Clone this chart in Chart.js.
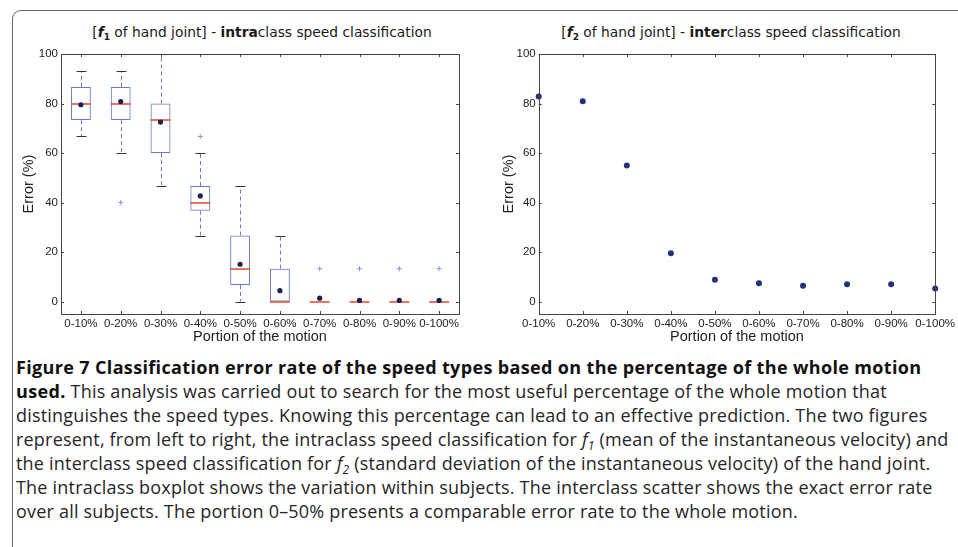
<!DOCTYPE html>
<html>
<head>
<meta charset="utf-8">
<script src="https://cdn.jsdelivr.net/npm/chart.js@4.4.1/dist/chart.umd.min.js"></script>
<style>
  body { margin: 0; background: #fff; width: 958px; height: 547px; overflow: hidden; position: relative; font-family: "Liberation Sans", Arial, sans-serif; }
  .frame { position: absolute; left: 12px; top: 10px; width: 990px; height: 600px; border-top: 1.5px solid #666; border-left: 1.5px solid #666; border-radius: 9px 0 0 0; }
  .panel { position: absolute; top: 40px; height: 310px; }
  .ttl { position: absolute; top: 24px; font-family: "DejaVu Sans", sans-serif; font-size: 13.8px; color: #1a1a1a; white-space: nowrap; transform: translateX(-50%); }
  .ttl sub { font-size: 9px; vertical-align: -3px; line-height: 0; }
  .cap { position: absolute; left: 16px; top: 355px; font-family: "Open Sans", sans-serif; font-size: 18px; letter-spacing: 0.2px; line-height: 24px; color: #262626; }
  .cap div { white-space: nowrap; }
  .cap b { letter-spacing: 0.35px; color: #111; }
  .cap i sub { font-size: 12px; vertical-align: -4px; line-height: 0; }
</style>
</head>
<body>
<div class="frame"></div>

<div class="ttl" style="left:262px">[<b><i>f</i><sub>1</sub></b> of hand joint] - <b>intra</b>class speed classification</div>
<div class="ttl" style="left:731px">[<b><i>f</i><sub>2</sub></b> of hand joint] - <b>inter</b>class speed classification</div>

<div class="panel" style="left:0;width:480px"><canvas id="intra"></canvas></div>
<div class="panel" style="left:480px;width:478px"><canvas id="inter"></canvas></div>

<div class="cap">
  <div><b>Figure 7 Classification error rate of the speed types based on the percentage of the whole motion</b></div>
  <div><b>used.</b> This analysis was carried out to search for the most useful percentage of the whole motion that</div>
  <div>distinguishes the speed types. Knowing this percentage can lead to an effective prediction. The two figures</div>
  <div>represent, from left to right, the intraclass speed classification for <i>f<sub>1</sub></i> (mean of the instantaneous velocity) and</div>
  <div>the interclass speed classification for <i>f<sub>2</sub></i> (standard deviation of the instantaneous velocity) of the hand joint.</div>
  <div>The intraclass boxplot shows the variation within subjects. The interclass scatter shows the exact error rate</div>
  <div>over all subjects. The portion 0–50% presents a comparable error rate to the whole motion.</div>
</div>

<script>
const categories = ['0-10%', '0-20%', '0-30%', '0-40%', '0-50%', '0-60%', '0-70%', '0-80%', '0-90%', '0-100%']

// intraclass boxplot (f1)
const whiskerLow = [66.7, 60, 46.7, 26.7, 0, 0, 0, 0, 0, 0]
const boxLow = [73.3, 73.3, 60, 36.7, 6.7, 0, 0, 0, 0, 0]
const medians = [80, 80, 73.3, 40, 13.3, 0, 0, 0, 0, 0]
const boxHigh = [86.7, 86.7, 80, 46.7, 26.7, 13.3, 0, 0, 0, 0]
const whiskerHigh = [93.3, 93.3, 100, 60, 46.7, 26.7, 0, 0, 0, 0]
const means = [79.5, 80.8, 72.5, 42.7, 15.1, 4.4, 1.4, 0.5, 0.5, 0.5]
const outliers = [null, 40, null, 66.7, null, null, 13.3, 13.3, 13.3, 13.3]

// interclass scatter (f2)
const interError = [82.8, 80.9, 55, 19.5, 8.8, 7.4, 6.4, 7.0, 7.0, 5.3]

const yTicks = [0, 20, 40, 60, 80, 100]

const tickFont = { family: '"Liberation Sans", Arial, sans-serif', size: 11.5 }
const titleFont = { family: '"Liberation Sans", Arial, sans-serif', size: 14.5 }

// matlab-like frame with inward ticks
const framePlugin = {
    id: 'frame',
    afterDraw(chart) {
        const { ctx, chartArea: a, scales } = chart
        ctx.save()
        ctx.strokeStyle = '#444'
        ctx.lineWidth = 1
        ctx.strokeRect(Math.round(a.left) + 0.5, Math.round(a.top) + 0.5, Math.round(a.right - a.left), Math.round(a.bottom - a.top))
        ctx.beginPath()
        scales.x.ticks.forEach((t, i) => {
            const x = Math.round(scales.x.getPixelForTick(i)) + 0.5
            ctx.moveTo(x, a.top); ctx.lineTo(x, a.top + 3)
            ctx.moveTo(x, a.bottom); ctx.lineTo(x, a.bottom - 3)
        })
        scales.y.ticks.forEach((t) => {
            const y = Math.round(scales.y.getPixelForValue(t.value)) + 0.5
            ctx.moveTo(a.left, y); ctx.lineTo(a.left + 3, y)
            ctx.moveTo(a.right, y); ctx.lineTo(a.right - 3, y)
        })
        ctx.stroke()
        ctx.restore()
    }
}

// whiskers, caps and medians for the boxplot
const boxPlugin = {
    id: 'boxparts',
    beforeDatasetsDraw(chart) {
        const { ctx, scales: { x, y } } = chart
        ctx.save()
        ctx.lineWidth = 1
        categories.forEach((c, i) => {
            const px = Math.round(x.getPixelForValue(i)) + 0.5
            ctx.strokeStyle = '#6d79cf'
            ctx.setLineDash([4, 3])
            ctx.beginPath()
            ctx.moveTo(px, y.getPixelForValue(boxHigh[i])); ctx.lineTo(px, y.getPixelForValue(whiskerHigh[i]))
            ctx.moveTo(px, y.getPixelForValue(boxLow[i])); ctx.lineTo(px, y.getPixelForValue(whiskerLow[i]))
            ctx.stroke()
            ctx.setLineDash([])
            ctx.strokeStyle = '#333'
            ctx.beginPath()
            if (whiskerHigh[i] > boxHigh[i]) {
                const yh = Math.round(y.getPixelForValue(whiskerHigh[i])) + 0.5
                ctx.moveTo(px - 5, yh); ctx.lineTo(px + 5, yh)
            }
            if (whiskerLow[i] < boxLow[i]) {
                const yl = Math.round(y.getPixelForValue(whiskerLow[i])) + 0.5
                ctx.moveTo(px - 5, yl); ctx.lineTo(px + 5, yl)
            }
            ctx.stroke()
        })
        ctx.restore()
    },
    afterDatasetDraw(chart, args) {
        if (args.index !== 0) return
        const { ctx, scales: { x, y } } = chart
        const step = x.getPixelForValue(1) - x.getPixelForValue(0)
        ctx.save()
        ctx.strokeStyle = '#e4472c'
        ctx.lineWidth = 1.5
        ctx.beginPath()
        medians.forEach((m, i) => {
            const px = x.getPixelForValue(i)
            const py = Math.round(y.getPixelForValue(m))
            ctx.moveTo(px - step / 4, py); ctx.lineTo(px + step / 4, py)
        })
        ctx.stroke()
        ctx.restore()
    }
}

function yScale(width) {
    return {
        min: -5,
        max: 100,
        afterBuildTicks: s => { s.ticks = yTicks.map(v => ({ value: v })) },
        afterFit: s => { s.width = width },
        grid: { display: false, drawTicks: false },
        border: { display: false },
        ticks: { color: '#222', font: tickFont, padding: 3 },
        title: { display: true, text: 'Error (%)', color: '#222', font: titleFont, padding: { top: 20, bottom: 0 } }
    }
}

function xScale(offset) {
    return {
        offset: offset,
        afterFit: s => { s.height = 36 },
        grid: { display: false, drawTicks: false, offset: false },
        border: { display: false },
        ticks: { color: '#222', font: tickFont, padding: 3, maxRotation: 0, minRotation: 0, autoSkip: false },
        title: { display: true, text: 'Portion of the motion', color: '#222', font: titleFont, padding: { top: 0, bottom: 4 } }
    }
}

const common = {
    responsive: false,
    animation: false,
    plugins: { legend: { display: false }, tooltip: { enabled: false } }
}

function makeCanvas(id, w, h) {
    const c = document.getElementById(id)
    c.width = w
    c.height = h
    c.style.width = w + 'px'
    c.style.height = h + 'px'
    return c
}

new Chart(makeCanvas('intra', 480, 310), {
    type: 'bar',
    data: {
        labels: categories,
        datasets: [
            {
                type: 'bar',
                data: boxLow.map((v, i) => [v, boxHigh[i]]),
                backgroundColor: 'rgba(0,0,0,0)',
                borderColor: '#6d79cf',
                borderWidth: 1,
                borderSkipped: false,
                barPercentage: 0.5,
                categoryPercentage: 1,
                order: 3
            },
            {
                type: 'line',
                data: outliers,
                showLine: false,
                pointStyle: 'cross',
                pointRadius: 2.6,
                borderColor: '#8a94dc',
                borderWidth: 1,
                order: 2
            },
            {
                type: 'line',
                data: means,
                showLine: false,
                pointRadius: 2.6,
                pointBackgroundColor: '#1b2157',
                pointBorderColor: '#1b2157',
                pointBorderWidth: 0,
                order: 1
            }
        ]
    },
    options: {
        ...common,
        layout: { padding: { left: 0, top: 14, right: 21, bottom: 0 } },
        scales: { x: xScale(true), y: yScale(61) }
    },
    plugins: [boxPlugin, framePlugin]
})

new Chart(makeCanvas('inter', 478, 310), {
    type: 'line',
    data: {
        labels: categories,
        datasets: [{
            data: interError,
            showLine: false,
            pointRadius: 3,
            pointBackgroundColor: '#25307a',
            pointBorderColor: '#25307a',
            pointBorderWidth: 0,
            clip: false
        }]
    },
    options: {
        ...common,
        layout: { padding: { left: 0, top: 14, right: 20.7, bottom: 0 } },
        scales: { x: xScale(false), y: yScale(58.7) }
    },
    plugins: [framePlugin]
})
</script>
</body>
</html>
